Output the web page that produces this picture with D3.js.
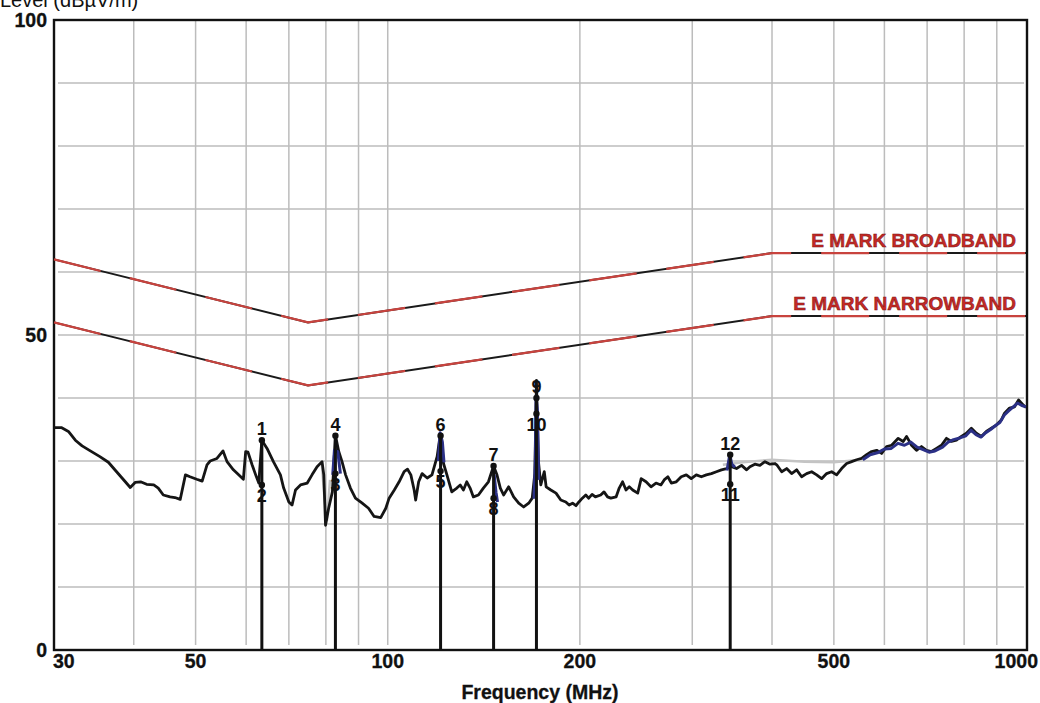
<!DOCTYPE html>
<html>
<head>
<meta charset="utf-8">
<script src="https://cdn.jsdelivr.net/npm/d3@7/dist/d3.min.js"></script>
<style>
  body { margin: 0; background: #fff; }
  svg text { font-family: "Liberation Sans", Arial, Helvetica, sans-serif; }
  .tick-label { font-weight: bold; font-size: 19.5px; fill: #111; stroke: #111; stroke-width: 0.3px; }
  .marker-label { font-weight: bold; font-size: 18px; fill: #111; }
  .limit-label { font-weight: bold; font-size: 19px; fill: #c62a26; stroke: #7a1212; stroke-width: 0.5px; }
</style>
</head>
<body>
<svg id="chart" width="1040" height="703"></svg>
<script>
// axis ticks / grid
const xTicks = [30, 50, 100, 200, 500, 1000]
const xGrid = [40, 50, 60, 70, 80, 90, 100, 200, 300, 400, 500, 600, 700, 800, 900]
const yTicks = [0, 50, 100]
const yGrid = [10, 20, 30, 40, 50, 60, 70, 80, 90]

// limit lines (dBuV/m)
const limitFreq = [30, 75, 400, 1000]
const broadband = [62, 52, 63, 63]
const narrowband = [52, 42, 53, 53]
const limitNames = ["E MARK BROADBAND", "E MARK NARROWBAND"]

// measured trace (MHz, dBuV/m)
const traceFreq = [30.0, 30.8, 31.6, 32.4, 33.2, 34.2, 35.4, 36.5, 37.6, 38.8, 39.5, 40.2, 41.0, 41.9, 43.0, 43.7, 44.5, 45.6, 46.4, 47.3,
  48.2, 49.0, 50.2, 51.2, 52.1, 52.7, 54.0, 55.2, 56.0, 57.3, 58.4, 59.4, 59.9, 60.4, 61.3, 62.1, 62.8, 63.5, 64.7, 66.2,
  67.9, 68.7, 70.0, 70.8, 71.7, 73.0, 74.8, 76.1, 77.5, 78.9, 79.4, 79.9, 80.8, 81.9, 82.8, 83.8, 84.8, 85.9, 87.4, 89.0,
  91.2, 93.3, 95.2, 97.5, 99.3, 100.5, 102.4, 104.2, 106.1, 107.4, 108.7, 110.0, 110.6, 111.8, 113.2, 115.3, 117.3, 119.5, 120.8, 121.6,
  122.3, 123.8, 126.0, 128.3, 129.9, 131.4, 133.0, 134.6, 136.2, 138.7, 141.2, 143.8, 146.5, 148.3, 150.1, 151.9, 154.7, 157.5, 160.4, 163.3,
  166.3, 168.4, 170.0, 171.0, 172.2, 173.7, 175.9, 177.1, 180.1, 183.5, 186.7, 190.1, 192.4, 194.8, 197.2, 199.3, 201.8, 204.3, 206.5, 209.0,
  211.5, 215.6, 218.2, 221.0, 223.6, 227.9, 230.5, 233.3, 236.2, 239.0, 242.0, 246.4, 249.5, 253.9, 258.5, 263.2, 267.9, 271.1, 274.7, 278.2,
  283.2, 288.3, 293.6, 298.9, 304.4, 310.0, 315.6, 321.4, 327.3, 333.3, 339.4, 345.6, 351.9, 358.4, 365.0, 369.4, 376.0, 382.9, 390.0, 397.1,
  404.4, 406.9, 414.2, 421.7, 429.3, 437.2, 445.1, 453.2, 461.5, 469.9, 478.4, 487.1, 496.0, 505.0, 514.2, 523.6, 533.1, 542.8, 552.7, 562.7,
  573.0, 583.4, 594.0, 604.8, 615.8, 630.7, 642.2, 649.9, 661.7, 673.7, 685.9, 698.4, 711.1, 724.0, 737.2, 750.6, 764.2, 778.0, 792.1, 806.5,
  821.1, 836.0, 851.2, 866.6, 882.4, 898.4, 914.7, 925.5, 942.3, 959.4, 973.6, 989.5, 1000]
const traceLevel = [35.3, 35.3, 34.7, 33.3, 32.4, 31.6, 30.7, 29.8, 28.3, 26.7, 25.8, 26.6, 26.7, 26.3, 26.2, 25.7, 24.6, 24.3, 24.2, 23.9,
  27.8, 27.5, 27.1, 26.8, 29.4, 30.0, 30.4, 31.6, 29.9, 28.6, 27.8, 27.1, 31.5, 31.4, 29.4, 27.8, 26.5, 33.3, 32.0, 29.9,
  27.8, 25.7, 23.5, 23.0, 25.4, 26.2, 26.5, 27.8, 29.1, 29.9, 27.8, 19.8, 22.5, 25.1, 34.1, 31.5, 29.9, 27.8, 25.7, 24.1,
  23.3, 22.5, 21.2, 21.0, 22.5, 24.1, 25.4, 26.7, 28.3, 28.7, 27.8, 25.4, 23.8, 26.7, 28.0, 27.3, 27.8, 30.7, 34.0, 31.5,
  29.6, 27.8, 25.1, 25.7, 26.2, 25.4, 26.7, 25.7, 24.3, 24.6, 25.7, 26.7, 29.2, 27.8, 25.7, 24.6, 25.9, 24.3, 23.3, 22.7,
  23.3, 24.1, 28.0, 42.8, 30.0, 26.2, 28.3, 25.9, 25.4, 24.9, 23.8, 23.5, 23.0, 23.3, 22.9, 23.5, 24.1, 24.6, 24.1, 24.7,
  24.3, 24.6, 25.1, 24.3, 24.1, 24.3, 25.7, 26.7, 25.4, 25.9, 25.4, 24.9, 27.2, 26.7, 25.9, 26.5, 26.2, 27.0, 27.5, 26.5,
  26.7, 27.5, 27.8, 27.2, 27.8, 27.5, 27.8, 28.0, 28.3, 28.6, 28.8, 29.1, 28.8, 29.3, 28.6, 29.1, 29.5, 29.3, 29.9, 29.5,
  29.6, 29.4, 28.3, 28.8, 28.0, 28.6, 27.5, 28.0, 28.3, 27.8, 27.2, 28.0, 28.3, 27.8, 28.8, 29.6, 29.9, 30.2, 30.4, 31.0,
  31.5, 31.7, 31.2, 32.3, 32.5, 33.6, 33.1, 33.9, 32.5, 31.7, 32.3, 31.7, 31.5, 32.0, 32.5, 33.6, 33.1, 33.3, 33.9, 34.4,
  35.2, 34.4, 33.9, 34.7, 35.2, 35.7, 36.5, 37.6, 38.4, 38.6, 39.7, 38.9, 38.5]

// second (blue) trace, visible pieces only; null = gap
const blueFreq = [82.0, 82.5, 83.5, 84.3, null, 120.0, 120.8, 121.8, 122.5, null, 146.8, 147.8, 148.6, null,
  169.5, 170.3, 170.8, 171.6, 172.4, null, 340, 343.5, 346, 350, null,
  555, 570, 585, 600, 615, 630, 645, 660, 675, 690, 705, 720, 740, 755, 770, 790, 805, 820, 835, 850, 865, 880, 895, 910, 925, 940, 955, 970, 985, 1000]
const blueLevel = [27.8, 31.7, 31.5, 28.0, null, 30.0, 34.5, 33.0, 29.8, null, 27.8, 25.0, 23.5, null,
  24.0, 30.0, 40.0, 38.0, 27.0, null, 28.5, 31.0, 29.5, 29.0, null,
  30.2, 31.0, 31.3, 31.9, 32.0, 32.8, 32.5, 33.0, 32.2, 31.8, 31.4, 31.6, 32.2, 33.0, 33.4, 33.7, 34.0, 34.9, 34.2, 33.8, 34.5, 35.0, 35.6, 36.1, 37.3, 38.0, 38.6, 39.2, 38.8, 38.6]

// faint grey trace pieces
const greyFreq = [78.8, 79.6, 80.3, 81.2, null, 335, 360, 400, 450, 500, 540]
const greyLevel = [29.8, 24.0, 20.5, 27.0, null, 29.4, 29.8, 30.2, 29.9, 29.8, 30.1]

// markers
const markerIds = ["1", "2", "3", "4", "5", "6", "7", "8", "9", "10", "11", "12"]
const markerFreq = [63.5, 63.5, 82.8, 82.8, 121, 121, 146.5, 146.5, 171, 171, 344, 344]
const markerLevel = [33.3, 26.2, 28.0, 34.0, 28.4, 34.0, 29.2, 24.1, 40.0, 37.5, 26.3, 31.0]

const svg = d3.select("#chart")
const plotL = 54, plotR = 1026, plotT = 20, plotB = 650

const x = d3.scaleLog().domain([30, 1000]).range([plotL, plotR])
const y = d3.scaleLinear().domain([0, 100]).range([plotB, plotT])

// grid
const grid = svg.append("g").attr("stroke", "#bcbcbc").attr("stroke-width", 1.5)
grid.selectAll(".vg").data(xGrid).enter()
  .append("line")
    .attr("x1", d => x(d)).attr("x2", d => x(d))
    .attr("y1", plotT).attr("y2", plotB - 5)
grid.selectAll(".hg").data(yGrid).enter()
  .append("line")
    .attr("x1", plotL + 4).attr("x2", plotR - 2)
    .attr("y1", d => y(d)).attr("y2", d => y(d))

// frame
svg.append("rect")
  .attr("x", plotL).attr("y", plotT)
  .attr("width", plotR - plotL + 1).attr("height", plotB - plotT)
  .attr("fill", "none").attr("stroke", "#111").attr("stroke-width", 2.4)

// tick labels
svg.selectAll(".xt").data(xTicks).enter()
  .append("text")
    .attr("class", "tick-label")
    .attr("x", (d, i) => i == 0 ? plotL - 1 : (i == xTicks.length - 1 ? 1038 : x(d)))
    .attr("y", 668)
    .attr("text-anchor", (d, i) => i == 0 ? "start" : (i == xTicks.length - 1 ? "end" : "middle"))
    .text(d => d)
svg.selectAll(".yt").data(yTicks).enter()
  .append("text")
    .attr("class", "tick-label")
    .attr("x", 47)
    .attr("y", d => y(d) + 7)
    .attr("text-anchor", "end")
    .text(d => d)

svg.append("text")
  .attr("class", "tick-label")
  .attr("x", x(Math.sqrt(30 * 1000)))
  .attr("y", 699)
  .attr("text-anchor", "middle")
  .text("Frequency (MHz)")

// axis title sits at the very top edge, partly cut off as in the source image
svg.append("text")
  .attr("x", 0).attr("y", 7)
  .style("font-size", "20px")
  .attr("fill", "#111")
  .text("Level (dBµV/m)")

// limit lines
const limLine = d3.line().x((d, i) => x(limitFreq[i])).y(d => y(d))
;[broadband, narrowband].forEach((vals, k) => {
  svg.append("path").attr("d", limLine(vals))
    .attr("fill", "none").attr("stroke", "#1a1a1a").attr("stroke-width", 2)
  svg.append("path").attr("d", limLine(vals))
    .attr("fill", "none").attr("stroke", "#c8433e").attr("stroke-width", 2.2)
    .attr("stroke-dasharray", "48 30")
  svg.append("text")
    .attr("class", "limit-label")
    .attr("x", 1016)
    .attr("y", y(vals[vals.length - 1]) - 6)
    .attr("text-anchor", "end")
    .text(limitNames[k])
})

// traces
const series = (fs, ls) => fs.map((f, i) => ({ f: f, v: ls[i] }))
const traceLine = d3.line()
  .defined(d => d.f != null)
  .x(d => x(d.f)).y(d => y(d.v))

svg.append("path").attr("d", traceLine(series(greyFreq, greyLevel)))
  .attr("fill", "none").attr("stroke", "#c4c4c4").attr("stroke-width", 2.5)

svg.append("path").attr("d", traceLine(series(traceFreq, traceLevel)))
  .attr("fill", "none").attr("stroke", "#151515").attr("stroke-width", 2.8)
  .attr("stroke-linejoin", "round")

svg.append("path").attr("d", traceLine(series(blueFreq, blueLevel)))
  .attr("fill", "none").attr("stroke", "#2b3086").attr("stroke-width", 3)
  .attr("stroke-linejoin", "round")

// markers
const markers = markerIds.map((id, i) => {
  const mate = i % 2 == 0 ? i + 1 : i - 1
  return { id: id, f: markerFreq[i], v: markerLevel[i], upper: markerLevel[i] >= markerLevel[mate] }
})

svg.selectAll(".mline").data(markers.filter(m => m.upper)).enter()
  .append("line")
    .attr("x1", d => x(d.f)).attr("x2", d => x(d.f))
    .attr("y1", plotB).attr("y2", d => y(d.v))
    .attr("stroke", "#111").attr("stroke-width", 3)

svg.selectAll(".mdot").data(markers).enter()
  .append("circle")
    .attr("cx", d => x(d.f)).attr("cy", d => y(d.v))
    .attr("r", 3.2)
    .attr("fill", "#111")

svg.selectAll(".mlabel").data(markers).enter()
  .append("text")
    .attr("class", "marker-label")
    .attr("x", d => x(d.f))
    .attr("y", d => d.upper ? y(d.v) - 5 : y(d.v) + 17)
    .attr("text-anchor", "middle")
    .text(d => d.id)
</script>
</body>
</html>
